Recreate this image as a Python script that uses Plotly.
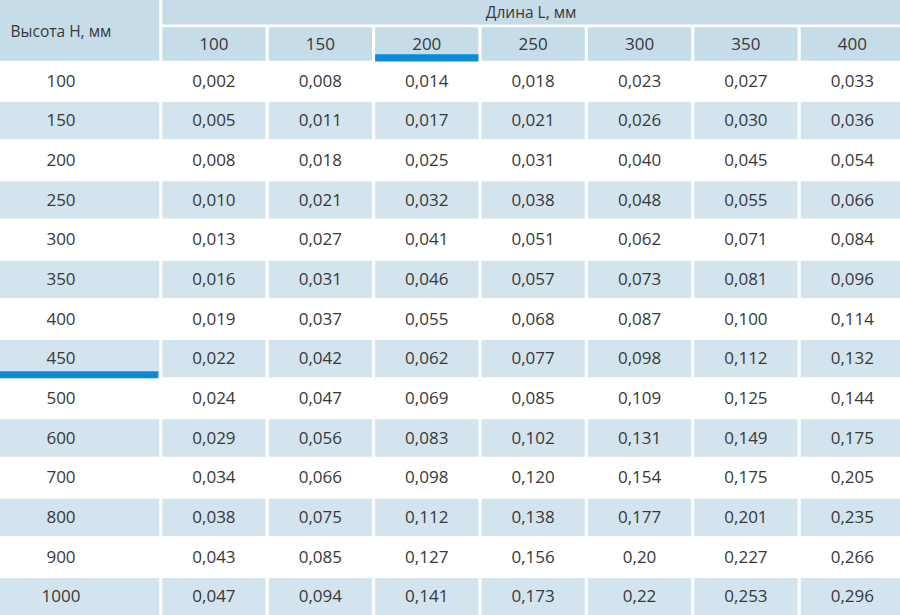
import plotly.graph_objects as go

# ---- data ----
length_labels = ["100", "150", "200", "250", "300", "350", "400"]
height_labels = ["100", "150", "200", "250", "300", "350", "400", "450",
                 "500", "600", "700", "800", "900", "1000"]
col_100 = ["0,002", "0,005", "0,008", "0,010", "0,013", "0,016", "0,019", "0,022", "0,024", "0,029", "0,034", "0,038", "0,043", "0,047"]
col_150 = ["0,008", "0,011", "0,018", "0,021", "0,027", "0,031", "0,037", "0,042", "0,047", "0,056", "0,066", "0,075", "0,085", "0,094"]
col_200 = ["0,014", "0,017", "0,025", "0,032", "0,041", "0,046", "0,055", "0,062", "0,069", "0,083", "0,098", "0,112", "0,127", "0,141"]
col_250 = ["0,018", "0,021", "0,031", "0,038", "0,051", "0,057", "0,068", "0,077", "0,085", "0,102", "0,120", "0,138", "0,156", "0,173"]
col_300 = ["0,023", "0,026", "0,040", "0,048", "0,062", "0,073", "0,087", "0,098", "0,109", "0,131", "0,154", "0,177", "0,20", "0,22"]
col_350 = ["0,027", "0,030", "0,045", "0,055", "0,071", "0,081", "0,100", "0,112", "0,125", "0,149", "0,175", "0,201", "0,227", "0,253"]
col_400 = ["0,033", "0,036", "0,054", "0,066", "0,084", "0,096", "0,114", "0,132", "0,144", "0,175", "0,205", "0,235", "0,266", "0,296"]
columns = [col_100, col_150, col_200, col_250, col_300, col_350, col_400]
row_title = "Высота H, мм"
col_title = "Длина L, мм"
highlight_col = "200"
highlight_row = "450"

# ---- style / layout ----
W, H = 900, 615
HEADER_BG = "#c6dce8"
STRIPE_BG = "#d3e4ee"
ACCENT = "#0a8bd9"
TXT = "#383838"
FONT = "Open Sans"

first_w = 159.3
col_x0 = 162.3
col_pitch = 106.4
cell_w = 103.3
hdr1 = (0, 24.5)
hdr2 = (27.3, 60.8)
row_y0 = 62.3
row_pitch = 39.67
row_h = 37.3
first_text_x = 61
text_dy = 1.5

shapes = []
texts_x, texts_y, texts = [], [], []


def rect(x0, y0, x1, y1, color):
    shapes.append(dict(type="rect", xref="x", yref="y", x0=x0, x1=x1, y0=y0, y1=y1,
                       fillcolor=color, line=dict(width=0), layer="below"))


# header
rect(0, 0, first_w, hdr2[1], HEADER_BG)
rect(col_x0, hdr1[0], W + 5, hdr1[1], HEADER_BG)
for j, lab in enumerate(length_labels):
    x0 = col_x0 + j * col_pitch
    rect(x0, hdr2[0], min(x0 + cell_w, W + 5), hdr2[1], HEADER_BG)
    if lab == highlight_col:
        rect(x0, hdr2[1] - 6.5, x0 + cell_w, hdr2[1] + 0.8, ACCENT)

# body stripes
for i, lab in enumerate(height_labels):
    y0 = row_y0 + i * row_pitch
    if i % 2 == 1:
        rect(0, y0, first_w, y0 + row_h, STRIPE_BG)
        for j in range(len(length_labels)):
            x0 = col_x0 + j * col_pitch
            rect(x0, y0, min(x0 + cell_w, W + 5), y0 + row_h, STRIPE_BG)
    if lab == highlight_row:
        rect(0, y0 + row_h - 6, first_w - 1, y0 + row_h + 1, ACCENT)

# cell texts
for i, lab in enumerate(height_labels):
    yc = row_y0 + i * row_pitch + row_h / 2 + text_dy
    texts_x.append(first_text_x)
    texts_y.append(yc)
    texts.append(lab)
    for j, col in enumerate(columns):
        texts_x.append(col_x0 + j * col_pitch + cell_w / 2)
        texts_y.append(yc)
        texts.append(col[i])

hdr_x = [col_x0 + j * col_pitch + cell_w / 2 for j in range(len(length_labels))]
hdr_y = [(hdr2[0] + hdr2[1]) / 2 + 1.5] * len(length_labels)

fig = go.Figure()
fig.add_trace(go.Scatter(x=texts_x, y=texts_y, text=texts, mode="text",
                         textfont=dict(family=FONT, size=17, color=TXT),
                         hoverinfo="skip", showlegend=False))
fig.add_trace(go.Scatter(x=hdr_x, y=hdr_y, text=length_labels, mode="text",
                         textfont=dict(family=FONT, size=17, color=TXT),
                         hoverinfo="skip", showlegend=False))
fig.add_trace(go.Scatter(x=[(col_x0 + W) / 2], y=[(hdr1[0] + hdr1[1]) / 2 + 2],
                         text=[col_title], mode="text",
                         textfont=dict(family=FONT, size=15.5, color=TXT),
                         hoverinfo="skip", showlegend=False))
fig.add_trace(go.Scatter(x=[61], y=[hdr2[1] / 2 + 3], text=[row_title], mode="text",
                         textfont=dict(family=FONT, size=15.5, color=TXT),
                         hoverinfo="skip", showlegend=False))

fig.update_layout(
    width=W, height=H,
    margin=dict(l=0, r=0, t=0, b=0),
    paper_bgcolor="white", plot_bgcolor="white",
    shapes=shapes,
    xaxis=dict(range=[0, W], visible=False, fixedrange=True),
    yaxis=dict(range=[H, 0], visible=False, fixedrange=True),
)
fig.write_html("out.html", config={"displayModeBar": False},
               post_script="document.body.style.margin='0';document.body.style.overflow='hidden';")
